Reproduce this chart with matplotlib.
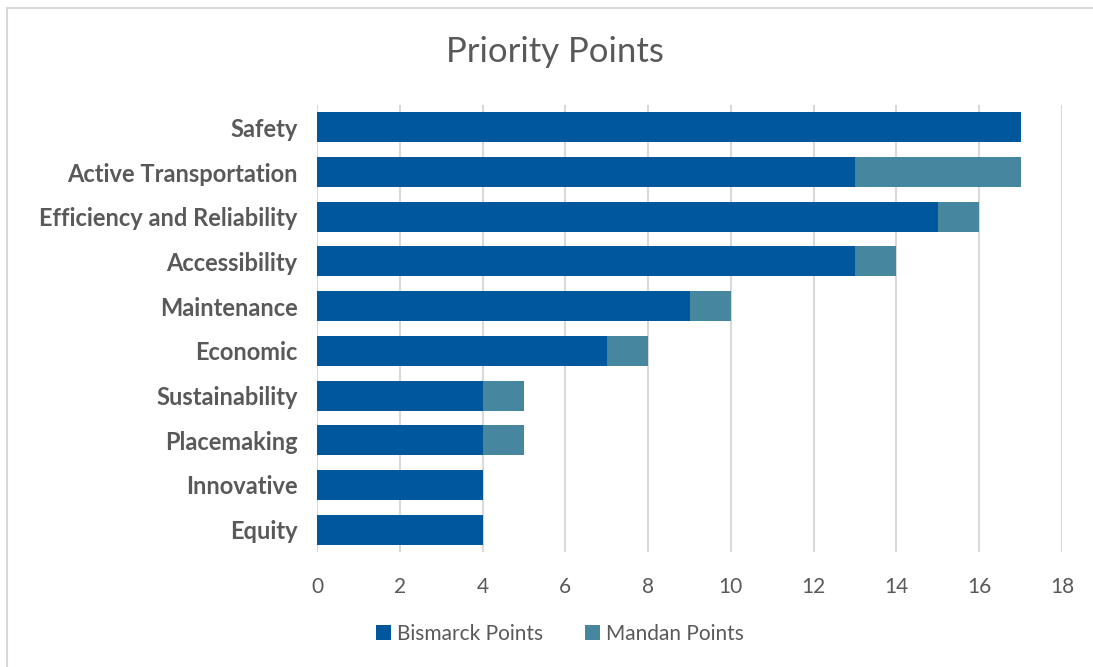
import matplotlib.pyplot as plt
from matplotlib.patches import Rectangle

# ---------- DATA ----------
categories = ["Safety", "Active Transportation", "Efficiency and Reliability",
              "Accessibility", "Maintenance", "Economic", "Sustainability",
              "Placemaking", "Innovative", "Equity"]
bismarck = [17, 13, 15, 13, 9, 7, 4, 4, 4, 4]
mandan = [0, 4, 1, 1, 1, 1, 1, 1, 0, 0]
xticks = [0, 2, 4, 6, 8, 10, 12, 14, 16, 18]

# ---------- STYLE ----------
plt.rcParams['font.family'] = ['Lato', 'DejaVu Sans']
text_color = "#595959"
c_bis = "#00579C"
c_man = "#46879F"

fig = plt.figure(figsize=(10.93, 6.67), dpi=100)
# chart frame
fig.patches.append(Rectangle((7 / 1093, -0.01), 1.1, 1 - 8 / 667 + 0.01,
                             transform=fig.transFigure, fill=False,
                             edgecolor="#D9D9D9", linewidth=1.5))

ax = fig.add_axes([317 / 1093, 1 - 552 / 667, (1062 - 317) / 1093, (552 - 105) / 667])

y = list(range(len(categories)))
ax.barh(y, bismarck, height=0.67, color=c_bis, label="Bismarck Points", zorder=3)
ax.barh(y, mandan, left=bismarck, height=0.67, color=c_man, label="Mandan Points", zorder=3)

ax.set_ylim(len(categories) - 0.5, -0.5)
ax.set_xlim(0, 18)
ax.set_xticks(xticks)
ax.set_yticks(y)
ax.set_yticklabels(categories, fontsize=17, fontweight='bold', color=text_color)
ax.tick_params(axis='x', labelsize=15, colors=text_color, length=0, pad=18)
ax.tick_params(axis='y', length=0, pad=14)
ax.grid(axis='x', color="#D9D9D9", linewidth=1.5, zorder=0)
for s in ax.spines.values():
    s.set_visible(False)

fig.text(555 / 1093, 1 - 52 / 667, "Priority Points",
         fontsize=25, color=text_color, ha='center', va='center')

fig.legend(loc='center', bbox_to_anchor=(560 / 1093, 1 - 634 / 667), ncol=2,
           frameon=False, fontsize=15, labelcolor=text_color,
           handlelength=0.7, handleheight=0.7, handletextpad=0.3, columnspacing=2.0)

fig.savefig("out.png", dpi=100)
